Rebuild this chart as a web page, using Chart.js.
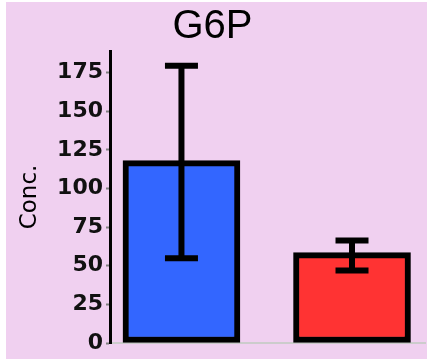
<!DOCTYPE html>
<html>
<head>
<meta charset="utf-8">
<script src="https://cdn.jsdelivr.net/npm/chart.js@4/dist/chart.umd.min.js"></script>
<style>
  html, body { margin: 0; padding: 0; background: #ffffff; }
  #wrap { width: 427px; height: 361px; }
</style>
</head>
<body>
<div id="wrap"><canvas id="g6p" width="427" height="361"></canvas></div>
<script>
const groups = ["Group 1", "Group 2"];
const groupPos = [0, 1];
const means = [118, 58.5];
const errHigh = [179.5, 66.3];
const errLow = [54.8, 47];
const barColors = ["#3366ff", "#ff3333"];
const yTicks = [0, 25, 50, 75, 100, 125, 150, 175];

const pinkBg = {
  id: "pinkBg",
  beforeDraw(chart) {
    const ctx = chart.ctx;
    ctx.save();
    ctx.fillStyle = "#f0d0f0";
    ctx.fillRect(6, 2, chart.width - 6, chart.height - 4);
    ctx.restore();
  },
};

const errorBars = {
  id: "errorBars",
  afterDatasetsDraw(chart) {
    const ctx = chart.ctx;
    const y = chart.scales.y;
    const meta = chart.getDatasetMeta(0);
    ctx.save();
    ctx.strokeStyle = "#000";
    ctx.lineWidth = 6;
    meta.data.forEach((bar, i) => {
      const top = y.getPixelForValue(errHigh[i]);
      const bot = y.getPixelForValue(errLow[i]);
      ctx.beginPath();
      ctx.moveTo(bar.x, top);
      ctx.lineTo(bar.x, bot);
      ctx.moveTo(bar.x - 16.5, top);
      ctx.lineTo(bar.x + 16.5, top);
      ctx.moveTo(bar.x - 16.5, bot);
      ctx.lineTo(bar.x + 16.5, bot);
      ctx.stroke();
    });
    ctx.restore();
  },
};

new Chart(document.getElementById("g6p"), {
  type: "bar",
  data: {
    datasets: [
      {
        label: "G6P",
        data: groups.map((g, i) => ({ x: groupPos[i], y: means[i] })),
        backgroundColor: barColors,
        borderColor: "#000",
        borderWidth: 6,
        borderSkipped: false,
        barThickness: 117,
      },
    ],
  },
  options: {
    responsive: false,
    animation: false,
    layout: { padding: { left: 0, right: 2, top: 0, bottom: 18 } },
    plugins: {
      legend: { display: false },
      tooltip: { enabled: false },
      title: {
        display: true,
        text: "G6P",
        color: "#000",
        font: { family: "Liberation Sans", size: 40, weight: "normal" },
        padding: { top: 3, bottom: 0 },
      },
    },
    scales: {
      x: {
        type: "linear",
        offset: false,
        min: -0.419,
        max: 1.428,
        ticks: { display: false },
        grid: { drawOnChartArea: false, drawTicks: false },
        border: { color: "#cccccc", width: 2 },
      },
      y: {
        min: 0,
        max: 189,
        afterBuildTicks(scale) {
          scale.ticks = yTicks.map((v) => ({ value: v }));
        },
        afterFit(scale) {
          scale.width = 110;
        },
        ticks: {
          color: "#111",
          padding: 3,
          font: { family: "DejaVu Sans", size: 22, weight: "bold" },
        },
        grid: { drawOnChartArea: false, tickLength: 4, tickWidth: 2, color: "#808080" },
        border: { color: "#000", width: 3 },
        title: {
          display: true,
          text: "Conc.",
          color: "#000",
          font: { family: "DejaVu Sans", size: 23, weight: "normal" },
          padding: { top: 16, bottom: 0 },
        },
      },
    },
  },
  plugins: [pinkBg, errorBars],
});
</script>
</body>
</html>
